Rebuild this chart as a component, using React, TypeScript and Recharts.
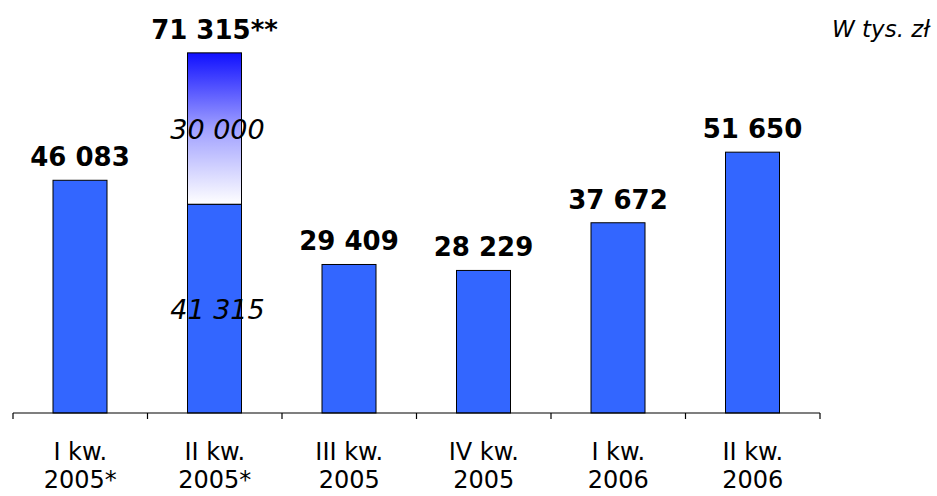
import { Bar, BarChart, LabelList, XAxis, YAxis } from "recharts";

const quarters = ["I kw.|2005*", "II kw.|2005*", "III kw.|2005", "IV kw.|2005", "I kw.|2006", "II kw.|2006"];
const baseValues = [46083, 41315, 29409, 28229, 37672, 51650];
const extraValues = [0, 30000, 0, 0, 0, 0];
const notes = ["", "**", "", "", "", ""];
const edgeTicks = [0, 1, 2, 3, 4, 5, 6];

const FONT = "'DejaVu Sans', Verdana, sans-serif";

const data = quarters.map((q, i) => ({
  q,
  idx: i + 0.5,
  base: baseValues[i],
  extra: extraValues[i],
  total: baseValues[i] + extraValues[i],
  note: notes[i],
}));

const fmt = (v: number) => String(v).replace(/\B(?=(\d{3})+(?!\d))/g, " ");

// the bar is drawn to the total; the top part (extra) gets the gradient fill
function SplitBar(props: any) {
  const { x, y, width, height, payload } = props;
  const extraH = payload.total ? (height * payload.extra) / payload.total : 0;
  return (
    <g>
      {extraH > 0 && (
        <rect x={x} y={y} width={width} height={extraH} fill="url(#extraFill)" stroke="#000" strokeWidth={1} />
      )}
      <rect x={x} y={y + extraH} width={width} height={height - extraH} fill="#3366ff" stroke="#000" strokeWidth={1} />
    </g>
  );
}

function QuarterTick(props: any) {
  const { x, y, payload } = props;
  const [top, bottom] = String(payload.value).split("|");
  return (
    <text x={x} y={y} textAnchor="middle" fontFamily={FONT} fontSize={24} fill="#000">
      <tspan x={x} dy={38}>{top}</tspan>
      <tspan x={x} dy={28}>{bottom}</tspan>
    </text>
  );
}

const NoLabel = () => <g />;

function TotalLabel(props: any) {
  const { x, y, width, index } = props;
  const d = data[index];
  return (
    <text x={x + width / 2} y={y - 14} textAnchor="middle" fontFamily={FONT} fontWeight="bold" fontSize={26} fill="#000">
      {fmt(d.total) + d.note}
    </text>
  );
}

// italic part values inside the split bar
function PartLabels(props: any) {
  const { x, y, width, height, index } = props;
  const d = data[index];
  if (!d.extra) return null;
  const extraH = (height * d.extra) / d.total;
  const cx = x + width / 2 + 3;
  const style = { fontFamily: FONT, fontStyle: "italic", fontSize: 27, fill: "#000" } as const;
  return (
    <g>
      <text x={cx} y={y + extraH / 2 + 10} textAnchor="middle" {...style}>
        {fmt(d.extra)}
      </text>
      <text x={cx} y={y + extraH + (height - extraH) / 2 + 10} textAnchor="middle" {...style}>
        {fmt(d.base)}
      </text>
    </g>
  );
}

export default function App() {
  return (
    <div style={{ position: "absolute", left: 0, top: 0, width: 937, height: 496, background: "#fff", overflow: "hidden" }}>
      <div
        style={{
          position: "absolute",
          left: 832,
          top: 16,
          fontFamily: FONT,
          fontStyle: "italic",
          fontSize: 23,
          whiteSpace: "nowrap",
        }}
      >
        W tys. zł
      </div>
      <BarChart width={937} height={496} data={data} margin={{ top: 9, right: 117, bottom: 0, left: 13 }}>
        <defs>
          <linearGradient id="extraFill" x1="0" y1="0" x2="0" y2="1">
            <stop offset="0%" stopColor="#1010ff" />
            <stop offset="50%" stopColor="#a0a0ff" />
            <stop offset="100%" stopColor="#ffffff" />
          </linearGradient>
        </defs>
        <XAxis
          xAxisId="cat"
          dataKey="q"
          axisLine={false}
          tickLine={false}
          tick={<QuarterTick />}
          height={82}
          interval={0}
        />
        {/* band edges: tick marks between quarters and the baseline */}
        <XAxis
          xAxisId="axis"
          dataKey="idx"
          type="number"
          domain={[0, 6]}
          ticks={edgeTicks}
          tick={<NoLabel />}
          tickSize={6}
          height={1}
          stroke="#000"
          axisLine={{ stroke: "#000", strokeWidth: 1.2 }}
          tickLine={{ stroke: "#000", strokeWidth: 1.2 }}
        />
        <YAxis hide domain={[0, 80000]} />
        <Bar xAxisId="cat" dataKey="total" barSize={54} shape={<SplitBar />} isAnimationActive={false}>
          <LabelList dataKey="total" content={<TotalLabel />} />
          <LabelList dataKey="total" content={<PartLabels />} />
        </Bar>
      </BarChart>
    </div>
  );
}
